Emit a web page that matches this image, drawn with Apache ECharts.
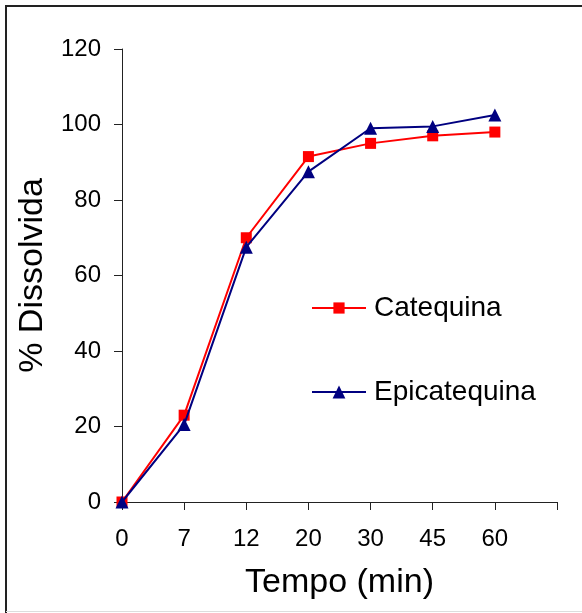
<!DOCTYPE html>
<html>
<head>
<meta charset="utf-8">
<script src="https://cdn.jsdelivr.net/npm/echarts@6/dist/echarts.min.js"></script>
<style>
  html, body { margin: 0; padding: 0; background: #fff; }
  #chart { width: 582px; height: 613px; }
</style>
</head>
<body>
<div id="chart"></div>
<script>
// Sampling times (min); the trailing blank slot leaves room after 60
const tempos = ['0', '7', '12', '20', '30', '45', '60', ''];
// Percentage dissolved for each compound
const catequina = [0, 23, 70, 91.5, 95, 97, 98];
const epicatequina = [0, 20.5, 67.5, 87.5, 99, 99.5, 102.5];
const yTicks = [0, 20, 40, 60, 80, 100, 120];

const font = "'Liberation Sans', Arial, sans-serif";
const chart = echarts.init(document.getElementById('chart'), null, { renderer: 'canvas' });

const legendText = { fontFamily: font, fontSize: 28, color: '#000', lineHeight: 28, padding: [0, 0, 0, 3] };

chart.setOption({
  animation: false,
  backgroundColor: '#fff',
  textStyle: { fontFamily: font },
  grid: { left: 122, right: 25, top: 49, bottom: 111, containLabel: false, outerBoundsMode: 'none' },
  graphic: [
    { type: 'line', shape: { x1: 6, y1: 5, x2: 6, y2: 613 }, style: { stroke: '#222', lineWidth: 2 } },
    { type: 'line', shape: { x1: 5, y1: 6, x2: 582, y2: 6 }, style: { stroke: '#222', lineWidth: 2 } },
    { type: 'line', shape: { x1: 6, y1: 611.5, x2: 582, y2: 611.5 }, style: { stroke: '#ddd', lineWidth: 1 } }
  ],
  legend: [
    {
      left: 311, top: 294, padding: 0,
      itemWidth: 54, itemHeight: 14,
      textStyle: legendText,
      data: ['Catequina']
    },
    {
      left: 311, top: 378, padding: 0,
      itemWidth: 54, itemHeight: 16,
      textStyle: legendText,
      data: ['Epicatequina']
    }
  ],
  xAxis: {
    type: 'category',
    data: tempos,
    boundaryGap: false,
    name: 'Tempo (min)',
    nameLocation: 'middle',
    nameGap: 64,
    nameTextStyle: { fontFamily: font, fontSize: 34, color: '#000' },
    axisLine: { lineStyle: { color: '#222', width: 1 } },
    axisTick: { show: true, length: 8, alignWithLabel: true, interval: 0, lineStyle: { color: '#222' } },
    axisLabel: { fontFamily: font, fontSize: 24, color: '#000', margin: 25, interval: 0 },
    splitLine: { show: false }
  },
  yAxis: {
    type: 'value',
    min: yTicks[0],
    max: yTicks[yTicks.length - 1],
    interval: 20,
    name: '% Dissolvida',
    nameLocation: 'middle',
    nameRotate: 90,
    nameGap: 68,
    nameTextStyle: { fontFamily: font, fontSize: 34, color: '#000' },
    axisLine: { show: true, lineStyle: { color: '#222', width: 1 } },
    axisTick: { show: true, length: 8, lineStyle: { color: '#222' } },
    axisLabel: { fontFamily: font, fontSize: 24, color: '#000', margin: 21 },
    splitLine: { show: false }
  },
  series: [
    {
      name: 'Catequina',
      type: 'line',
      data: catequina,
      symbol: 'rect',
      symbolSize: 11,
      lineStyle: { color: '#ff0000', width: 2 },
      itemStyle: { color: '#ff0000', borderWidth: 0 },
      z: 2
    },
    {
      name: 'Epicatequina',
      type: 'line',
      data: epicatequina,
      symbol: 'triangle',
      symbolSize: [13, 13],
      lineStyle: { color: '#000080', width: 2 },
      itemStyle: { color: '#000080', borderWidth: 0 },
      z: 3
    }
  ]
});
</script>
</body>
</html>
